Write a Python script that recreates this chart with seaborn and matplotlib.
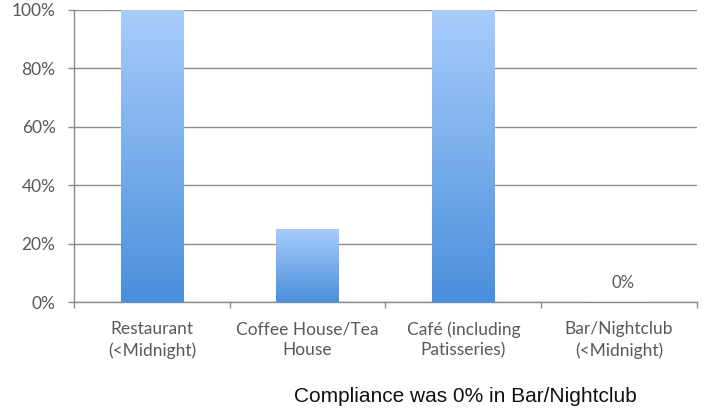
import matplotlib
matplotlib.use("Agg")
import matplotlib.pyplot as plt
import seaborn as sns
import numpy as np
import pandas as pd
from matplotlib.colors import LinearSegmentedColormap

categories = ["Restaurant\n(<Midnight)", "Coffee House/Tea\nHouse",
              "Café (including\nPatisseries)", "Bar/Nightclub\n(<Midnight)"]
values = [100, 25, 100, 0]
ytick_values = [0, 20, 40, 60, 80, 100]
ytick_labels = ["0%", "20%", "40%", "60%", "80%", "100%"]
caption = "Compliance was 0% in Bar/Nightclub"

sns.set_theme(style="white")
plt.rcParams['font.family'] = ['Lato', 'DejaVu Sans']

df = pd.DataFrame({"cat": categories, "val": values})

fig = plt.figure(figsize=(7.07, 4.16), dpi=100)
ax = fig.add_axes([0.1047, 0.274, 0.881, 0.702])

sns.barplot(data=df, x="cat", y="val", ax=ax, width=0.4, color="#6fa8ea",
            saturation=1, zorder=3)

cmap = LinearSegmentedColormap.from_list("grad", ["#4a8fdc", "#a8cdfb"])
grad = np.linspace(0, 1, 256).reshape(-1, 1)
for p in ax.patches:
    x0, y0 = p.get_x(), p.get_y()
    w, h = p.get_width(), p.get_height()
    if h <= 0:
        continue
    im = ax.imshow(grad, extent=[x0, x0 + w, y0, y0 + h], origin="lower",
                   cmap=cmap, aspect="auto", zorder=3, interpolation="bilinear")
    im.set_clip_path(p)
    p.set_facecolor("none")
    p.set_edgecolor("none")

# label for last bar
ax.annotate(f"{values[3]}%",
            xy=(3, values[3]), xytext=(3, 13.5), textcoords="offset points",
            ha="center", va="center", fontsize=12, color="#595959")

ax.set_xlim(-0.5, len(categories) - 0.5)
ax.set_ylim(0, 100)
ax.set_yticks(ytick_values)
ax.set_yticklabels(ytick_labels)
ax.yaxis.grid(True, color="#8c8c8c", linewidth=1.0, zorder=0)
ax.set_axisbelow(True)
ax.set_xlabel("")
ax.set_ylabel("")

ax.set_xticks(np.arange(len(categories)))
ax.set_xticklabels(categories, linespacing=1.35)
ax.set_xticks(np.arange(len(categories) + 1) - 0.5, minor=True)
ax.tick_params(axis="x", which="major", length=0, pad=14, labelsize=12.5,
               labelcolor="#595959")
ax.tick_params(axis="x", which="minor", length=4.3, width=1, color="#8c8c8c",
               direction="out", bottom=True)
ax.tick_params(axis="y", length=4.3, width=1, color="#8c8c8c", direction="out",
               left=True, labelsize=12.5, labelcolor="#595959", pad=9)

for s in ["top", "right"]:
    ax.spines[s].set_visible(False)
for s in ["left", "bottom"]:
    ax.spines[s].set_color("#8c8c8c")
    ax.spines[s].set_linewidth(1.0)

fig.text(0.658, 0.048, caption, ha="center", va="center", fontsize=15,
         family=["Liberation Sans", "DejaVu Sans"], color="#111111")

fig.savefig("out.png", dpi=100)
